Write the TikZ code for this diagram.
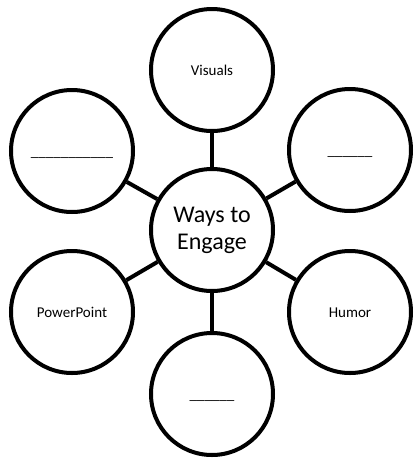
\documentclass[tikz,border=0pt]{standalone}
\usepackage{fontspec}
\setmainfont{Carlito}
\begin{document}
\begin{tikzpicture}[x=1pt,y=-1pt,
  ring/.style={draw,circle,line width=4pt,minimum size=122pt,inner sep=0pt},
  bubble/.style={ring,text height=11pt,text depth=0pt,
    font=\fontsize{15}{18}\selectfont},
  hub/.style={ring,font=\fontsize{24}{27}\selectfont,align=center},
  spoke/.style={line width=4pt}]
\useasboundingbox (0,0) rectangle (414,459);

\node[hub] (engage) at (212,230) {Ways to\\Engage};
\node[bubble] (visuals) at (212,70) {Visuals};
\node[bubble] (blankul) at (72,151) {\_\_\_\_\_\_\_\_\_\_\_};
\node[bubble] (blankur) at (350,150) {\_\_\_\_\_\_};
\node[bubble] (ppt) at (72,312) {PowerPoint};
\node[bubble] (humor) at (350,312) {Humor};
\node[bubble] (blankb) at (212,394) {\_\_\_\_\_\_};

\draw[spoke] (engage) -- (visuals);
\draw[spoke] (engage) -- (blankul);
\draw[spoke] (engage) -- (blankur);
\draw[spoke] (engage) -- (ppt);
\draw[spoke] (engage) -- (humor);
\draw[spoke] (engage) -- (blankb);
\end{tikzpicture}
\end{document}
